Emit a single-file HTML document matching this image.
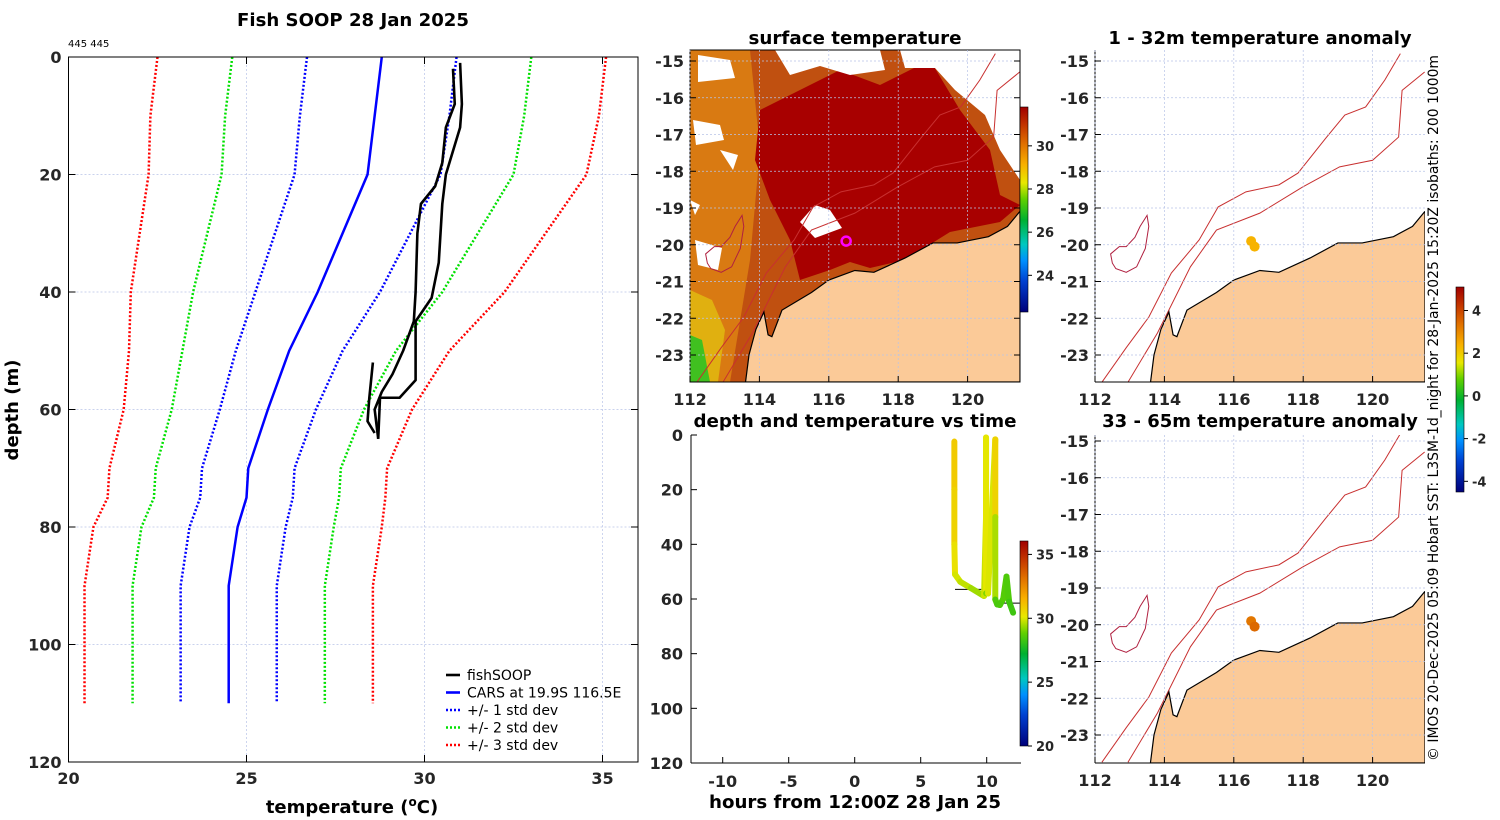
<!DOCTYPE html>
<html><head><meta charset="utf-8"><style>
html,body{margin:0;padding:0;background:#fff;}
svg{display:block;font-family:"DejaVu Sans","Liberation Sans",sans-serif;}
.tk{font-size:16px;font-weight:bold;fill:#262626;}
.ttl{font-size:18px;font-weight:bold;fill:#000;}
.cb{font-size:13px;font-weight:bold;fill:#262626;}
.lg{font-size:14px;fill:#000;}
</style></head><body>
<svg id="fig" width="1500" height="820" viewBox="0 0 1500 820" xmlns="http://www.w3.org/2000/svg">
<defs>
<linearGradient id="sstcb" x1="0" y1="1" x2="0" y2="0">
<stop offset="0" stop-color="#00007a"/><stop offset="0.15" stop-color="#0040d0"/><stop offset="0.25" stop-color="#0090ff"/><stop offset="0.33" stop-color="#00c8c0"/><stop offset="0.45" stop-color="#00b030"/><stop offset="0.55" stop-color="#60d000"/><stop offset="0.63" stop-color="#e8e800"/><stop offset="0.72" stop-color="#f8b000"/><stop offset="0.82" stop-color="#e07000"/><stop offset="0.92" stop-color="#c03000"/><stop offset="1" stop-color="#a00000"/></linearGradient>
<clipPath id="clipA"><rect x="690" y="50" width="330" height="332"/></clipPath>
<clipPath id="clipB"><rect x="1095" y="50" width="330" height="332"/></clipPath>
<clipPath id="clipC"><rect x="1095" y="435" width="330" height="328"/></clipPath>
</defs>
<g id="g-left"></g>
<g id="g-sst"></g>
<g id="g-time"></g>
<g id="g-anom1"></g>
<g id="g-anom2"></g>
<text x="1438" y="408" class="lg" font-size="13.5" text-anchor="middle" transform="rotate(-90 1438 408)" textLength="706" lengthAdjust="spacingAndGlyphs">© IMOS 20-Dec-2025 05:09 Hobart SST: L3SM-1d_night for 28-Jan-2025 15:20Z isobaths: 200  1000m</text>
</svg>
<script>
// ---------- profile data ----------
const carsDepth = [0, 10, 20, 30, 40, 50, 60, 70, 75, 80, 90, 110];
const carsTemp  = [28.8, 28.6, 28.4, 27.7, 27.0, 26.2, 25.6, 25.05, 25.0, 24.75, 24.5, 24.5];
const carsStd   = [2.1, 2.1, 2.05, 1.9, 1.75, 1.5, 1.35, 1.3, 1.3, 1.35, 1.35, 1.35];
const castA_T = [30.8, 30.85, 30.6, 30.5, 30.3, 29.9, 29.8, 29.75, 29.7, 29.4, 29.1, 28.8, 28.6, 28.7];
const castA_D = [2, 8, 12, 18, 22, 25, 30, 40, 45, 50, 54, 57, 60, 65];
const castB_T = [28.7, 28.75, 29.3, 29.6, 29.75, 29.75, 30.2, 30.4, 30.5, 30.6, 31.0, 31.05, 31.0];
const castB_D = [65, 58, 58, 56, 55, 45, 41, 35, 25, 20, 12, 8, 1];
const castC_T = [28.55, 28.45, 28.4, 28.6];
const castC_D = [52, 58, 62, 64];
const xTicks = [20, 25, 30, 35];
const yTicks = [0, 20, 40, 60, 80, 100, 120];
// ---------- depth-time data ----------
const tHours = [7.55, 7.55, 7.55, 7.6, 8.0, 8.8, 9.8, 9.95, 9.95, 9.95, 10.1, 10.65, 10.65, 10.65, 10.8, 11.0, 11.25, 11.5, 11.7, 12.0];
const tDepth = [2.4, 20, 40, 51, 53.7, 56, 58.9, 30, 0.9, 57.9, 58, 1.6, 30, 60.2, 62, 62.2, 60, 51.8, 61, 65];
const tTemp  = [30.9, 30.8, 30.5, 30.0, 29.8, 29.6, 29.2, 30.4, 30.9, 29.2, 29.0, 30.9, 30.4, 28.6, 28.4, 28.4, 28.5, 28.7, 28.3, 28.2];
const tTicksX = [-10, -5, 0, 5, 10];
const tTicksY = [0, 20, 40, 60, 80, 100, 120];
// ---------- map data ----------
const lonTicks = [112, 114, 116, 118, 120];
const latTicks = [-15, -16, -17, -18, -19, -20, -21, -22, -23];
const coastLon = [113.6, 113.7, 113.9, 114.13, 114.25, 114.36, 114.65, 115.5, 116.0, 116.75, 117.3, 118.2, 119.0, 119.7, 120.6, 121.15, 121.5];
const coastLat = [-23.74, -23.0, -22.3, -21.83, -22.45, -22.5, -21.78, -21.3, -20.96, -20.7, -20.75, -20.36, -19.95, -19.95, -19.78, -19.5, -19.1];
const iso1Lon = [112.2, 112.9, 113.55, 114.2, 115.0, 115.55, 116.35, 117.3, 117.85, 118.65, 119.2, 119.8, 120.35, 120.8];
const iso1Lat = [-23.74, -22.8, -21.97, -20.77, -19.87, -18.97, -18.56, -18.37, -18.05, -17.1, -16.47, -16.25, -15.52, -14.8];
const iso2Lon = [112.95, 113.8, 114.75, 115.5, 116.75, 117.98, 119.05, 120.0, 120.75, 120.85, 121.5];
const iso2Lat = [-23.74, -22.4, -20.6, -19.6, -19.14, -18.43, -17.88, -17.7, -17.07, -15.8, -15.3];
const islLon = [112.45, 112.7, 112.9, 113.15, 113.3, 113.5, 113.55, 113.45, 113.2, 112.9, 112.6, 112.5, 112.45];
const islLat = [-20.25, -20.05, -20.05, -19.8, -19.5, -19.2, -19.5, -20.1, -20.6, -20.75, -20.65, -20.5, -20.25];
const stationLon = [116.5, 116.6];
const stationLat = [-19.9, -20.05];
const anom1 = [2.3, 2.3];
const anom2 = [3.2, 3.4];
const sstTicks = [30, 28, 26, 24];
const timeCbTicks = [35, 30, 25, 20];
const anomTicks = [4, 2, 0, -2, -4];

const NS = 'http://www.w3.org/2000/svg';
function mk(parent, tag, attrs, text) {
  const e = document.createElementNS(NS, tag);
  for (const k in attrs) e.setAttribute(k, attrs[k]);
  if (text !== undefined) e.textContent = text;
  parent.appendChild(e);
  return e;
}
function jet(t, lo, hi) {
  const f = Math.max(0, Math.min(1, (t - lo) / (hi - lo)));
  const st = [[0,[0,0,122]],[0.15,[0,64,208]],[0.25,[0,144,255]],[0.33,[0,200,192]],[0.45,[0,176,48]],[0.55,[96,208,0]],[0.63,[232,232,0]],[0.72,[248,176,0]],[0.82,[224,112,0]],[0.92,[192,48,0]],[1,[160,0,0]]];
  for (let i = 1; i < st.length; i++) {
    if (f <= st[i][0]) {
      const a = st[i-1], b = st[i], u = (f - a[0]) / (b[0] - a[0]);
      const c = a[1].map((v, j) => Math.round(v + (b[1][j] - v) * u));
      return 'rgb(' + c.join(',') + ')';
    }
  }
  return 'rgb(160,0,0)';
}

// ================= LEFT PROFILE =================
(function () {
  const g = document.getElementById('g-left');
  const L = 68.5, R = 638, T = 57, B = 762;
  const X = v => L + (v - 20) * 35.6;
  const Y = d => T + d * (B - T) / 120;
  mk(g, 'rect', {x: L, y: T, width: R - L, height: B - T, fill: '#fff', stroke: 'none'});
  xTicks.forEach(v => {
    const ln = mk(g, 'line', {x1: X(v), x2: X(v), y1: T, y2: B, stroke: '#b8c4e8', 'stroke-width': 0.7, 'stroke-dasharray': '2 2'});
    
    
    mk(g, 'line', {x1: X(v), x2: X(v), y1: B, y2: B - 7, stroke: '#000'});
    mk(g, 'line', {x1: X(v), x2: X(v), y1: T, y2: T + 7, stroke: '#000'});
    const t = mk(g, 'text', {x: X(v), y: B + 22, class: 'tk', 'text-anchor': 'middle'}, v);
    
    
  });
  yTicks.forEach(d => {
    const ln = mk(g, 'line', {x1: L, x2: R, y1: Y(d), y2: Y(d), stroke: '#b8c4e8', 'stroke-width': 0.7, 'stroke-dasharray': '2 2'});
    
    
    mk(g, 'line', {x1: L, x2: L + 7, y1: Y(d), y2: Y(d), stroke: '#000'});
    mk(g, 'line', {x1: R, x2: R - 7, y1: Y(d), y2: Y(d), stroke: '#000'});
    const t = mk(g, 'text', {x: L - 7, y: Y(d) + 6, class: 'tk', 'text-anchor': 'end'}, d);
    
    
  });
  const colors = ['#0000ff', '#00e000', '#ff0000'];
  [3, 2, 1].forEach(k => {
    [-1, 1].forEach(s => {
      const pts = carsDepth.map((d, i) => X(carsTemp[i] + s * k * carsStd[i]) + ',' + Y(d)).join(' ');
      const p = mk(g, 'polyline', {points: pts, fill: 'none', stroke: colors[k - 1], 'stroke-width': 2.5, 'stroke-dasharray': '2 2'});
      
      
    });
  });
  const cp = mk(g, 'polyline', {points: carsDepth.map((d, i) => X(carsTemp[i]) + ',' + Y(d)).join(' '), fill: 'none', stroke: '#0000ff', 'stroke-width': 2.5});
  
  
  [[castA_T, castA_D], [castB_T, castB_D], [castC_T, castC_D]].forEach((c, j) => {
    const p = mk(g, 'polyline', {points: c[1].map((d, i) => X(c[0][i]) + ',' + Y(d)).join(' '), fill: 'none', stroke: '#000', 'stroke-width': 2.6, 'stroke-linejoin': 'round'});
    
    
  });
  mk(g, 'rect', {x: L, y: T, width: R - L, height: B - T, fill: 'none', stroke: '#000', 'stroke-width': 1});
  const tt = mk(g, 'text', {x: 353, y: 26, class: 'ttl', 'text-anchor': 'middle', textLength: 232, lengthAdjust: 'spacingAndGlyphs'}, 'Fish SOOP 28 Jan 2025');
  
  
  const sm = mk(g, 'text', {x: 68, y: 47, 'font-size': 10, fill: '#000'}, '445 445');
  
  
  const xl = mk(g, 'text', {x: 352, y: 813, class: 'ttl', 'text-anchor': 'middle', fill: '#262626'});
  
  
  xl.innerHTML = 'temperature (<tspan dy="-7" font-size="12">o</tspan><tspan dy="7">C)</tspan>';
  const yl = mk(g, 'text', {x: 18, y: 410, class: 'ttl', 'text-anchor': 'middle', transform: 'rotate(-90 18 410)'}, 'depth (m)');
  
  
  const lg = mk(g, 'g', {});
  
  
  const items = [['fishSOOP', '#000', ''], ['CARS at 19.9S 116.5E', '#0000ff', ''], ['+/- 1 std dev', '#0000ff', '2 2'], ['+/- 2 std dev', '#00e000', '2 2'], ['+/- 3 std dev', '#ff0000', '2 2']];
  items.forEach((it, i) => {
    const y = 675 + i * 17.5;
    const e = mk(lg, 'g', {});
    
    
    mk(e, 'line', {x1: 446, x2: 460, y1: y, y2: y, stroke: it[1], 'stroke-width': 2.6, 'stroke-dasharray': it[2]});
    mk(e, 'text', {x: 467, y: y + 5, class: 'lg'}, it[0]);
  });
})();

// ================= MAP HELPERS =================
function proj(x0, y0) {
  return [lon => x0 + (lon - 112) * 34.7, lat => y0 + (-15 - lat) * 36.75];
}
function polyPts(P, lons, lats) { return lons.map((v, i) => P[0](v) + ',' + P[1](lats[i])).join(' '); }
function mapAxes(g, P, box, withRightTicks) {
  lonTicks.forEach(v => {
    const ln = mk(g, 'line', {x1: P[0](v), x2: P[0](v), y1: box[1], y2: box[3], stroke: '#b8c4e8', 'stroke-width': 0.7, 'stroke-dasharray': '2 2'});
    
    
    mk(g, 'line', {x1: P[0](v), x2: P[0](v), y1: box[3], y2: box[3] - 6, stroke: '#000'});
    const t = mk(g, 'text', {x: P[0](v), y: box[3] + 23, class: 'tk', 'text-anchor': 'middle'}, v);
    
    
  });
  latTicks.forEach(v => {
    const ln = mk(g, 'line', {x1: box[0], x2: box[2], y1: P[1](v), y2: P[1](v), stroke: '#b8c4e8', 'stroke-width': 0.7, 'stroke-dasharray': '2 2'});
    
    
    mk(g, 'line', {x1: box[0], x2: box[0] + 6, y1: P[1](v), y2: P[1](v), stroke: '#000'});
    if (withRightTicks) mk(g, 'line', {x1: box[2], x2: box[2] - 6, y1: P[1](v), y2: P[1](v), stroke: '#000'});
    const t = mk(g, 'text', {x: box[0] - 6, y: P[1](v) + 6, class: 'tk', 'text-anchor': 'end'}, v);
    
    
  });
}
function land(g, P, box) {
  const pts = polyPts(P, coastLon, coastLat) + ' ' + box[2] + ',' + P[1](-19.1) + ' ' + box[2] + ',' + box[3] + ' ' + P[0](113.6) + ',' + box[3];
  const l = mk(g, 'polygon', {points: pts, fill: '#fbca98', stroke: '#000', 'stroke-width': 1.2});
  
  
}
function isobaths(g, P) {
  [[iso1Lon, iso1Lat], [iso2Lon, iso2Lat]].forEach((c, i) => {
    const p = mk(g, 'polyline', {points: polyPts(P, c[0], c[1]), fill: 'none', stroke: '#c83030', 'stroke-width': 1});
    
    
  });
  const isl = mk(g, 'polygon', {points: polyPts(P, islLon, islLat), fill: 'none', stroke: '#b02040', 'stroke-width': 1});
  
  
}
function colorbar(g, x, y0, y1, lo, hi, ticks, grad, name) {
  const r = mk(g, 'rect', {x: x, y: y0, width: 8, height: y1 - y0, fill: 'url(#' + grad + ')', stroke: '#000', 'stroke-width': 0.6});
  
  
  ticks.forEach(v => {
    const y = y1 - (v - lo) / (hi - lo) * (y1 - y0);
    mk(g, 'line', {x1: x + 8, x2: x + 12, y1: y, y2: y, stroke: '#000'});
    const t = mk(g, 'text', {x: x + 16, y: y + 5, class: 'cb'}, v);
    
    
  });
}

// ================= SST MAP =================
(function () {
  const g = document.getElementById('g-sst');
  const box = [690, 50, 1020, 382];
  const P = proj(690, 61);
  const c = mk(g, 'g', {'clip-path': 'url(#clipA)'});
  mk(c, 'rect', {x: 690, y: 50, width: 330, height: 332, fill: '#c05010'});
  mk(c, 'polygon', {points: '690,50 750,50 760,150 750,260 730,382 690,382', fill: '#d97a12'});
  mk(c, 'polygon', {points: '690,290 712,300 725,330 718,382 690,382', fill: '#e0b010'});
  mk(c, 'polygon', {points: '690,335 702,340 710,382 690,382', fill: '#40c020'});
  mk(c, 'polygon', {points: '760,110 800,90 840,70 880,85 930,60 960,110 990,150 1000,195 1020,205 1000,222 950,232 905,260 870,268 850,262 830,270 800,280 790,240 770,200 755,160', fill: '#a80000'});
  const clouds = ['775,50 880,50 885,70 850,75 820,66 790,75', '900,50 1020,50 1020,180 1000,150 985,115 955,90 935,68 905,68',
    '815,205 830,210 842,228 815,238 800,222', '698,55 730,60 735,78 698,82', '693,120 720,125 724,140 696,145',
    '695,240 722,248 718,270 698,265', '720,150 738,155 733,170', '690,200 700,205 695,215'];
  clouds.forEach(pt => mk(c, 'polygon', {points: pt, fill: '#fff'}));
  isobaths(c, P);
  land(c, P, box);
  mk(g, 'rect', {x: 690, y: 50, width: 330, height: 332, fill: 'none', stroke: '#000', 'stroke-width': 1});
  mapAxes(g, P, box, true);
  const m = mk(g, 'circle', {cx: P[0](stationLon[0]), cy: P[1](stationLat[0]), r: 4.5, fill: 'none', stroke: '#ff00ff', 'stroke-width': 2.5});
  
  
  colorbar(g, 1020, 107, 312, 22.3, 31.8, sstTicks, 'sstcb', 'sst-colorbar');
  const t = mk(g, 'text', {x: 855, y: 44, class: 'ttl', 'text-anchor': 'middle', textLength: 213, lengthAdjust: 'spacingAndGlyphs'}, 'surface temperature');
  
  
})();

// ================= DEPTH-TIME =================
(function () {
  const g = document.getElementById('g-time');
  const L = 691, R = 1021, T = 435, B = 763;
  const X = h => 854.7 + h * 13.2;
  const Y = d => T + d * (B - T) / 120;
  mk(g, 'line', {x1: L, x2: L, y1: T, y2: B, stroke: '#000'});
  mk(g, 'line', {x1: L, x2: R, y1: B, y2: B, stroke: '#000'});
  tTicksX.forEach(v => {
    mk(g, 'line', {x1: X(v), x2: X(v), y1: B, y2: B - 6, stroke: '#000'});
    const t = mk(g, 'text', {x: X(v), y: B + 24, class: 'tk', 'text-anchor': 'middle'}, v);
    
    
  });
  tTicksY.forEach(v => {
    mk(g, 'line', {x1: L, x2: L + 6, y1: Y(v), y2: Y(v), stroke: '#000'});
    const t = mk(g, 'text', {x: L - 8, y: Y(v) + 6, class: 'tk', 'text-anchor': 'end'}, v);
    
    
  });
  mk(g, 'line', {x1: X(7.6), x2: X(9.6), y1: Y(56.5), y2: Y(56.5), stroke: '#000', 'stroke-width': 1});
  mk(g, 'line', {x1: X(10.7), x2: X(12.5), y1: Y(61.5), y2: Y(61.5), stroke: '#000', 'stroke-width': 1});
  for (let i = 1; i < tHours.length; i++) {
    const s = mk(g, 'line', {x1: X(tHours[i - 1]), y1: Y(tDepth[i - 1]), x2: X(tHours[i]), y2: Y(tDepth[i]), stroke: jet((tTemp[i] + tTemp[i - 1]) / 2, 20, 36), 'stroke-width': 6, 'stroke-linecap': 'round'});
    
    
  }
  colorbar(g, 1020, 541, 746, 20, 36.05, timeCbTicks, 'sstcb', 'time-colorbar');
  const t = mk(g, 'text', {x: 855, y: 427, class: 'ttl', 'text-anchor': 'middle', textLength: 323, lengthAdjust: 'spacingAndGlyphs'}, 'depth and temperature vs time');
  
  
  const xl = mk(g, 'text', {x: 855, y: 808, class: 'ttl', 'text-anchor': 'middle', fill: '#262626', textLength: 292, lengthAdjust: 'spacingAndGlyphs'}, 'hours from 12:00Z 28 Jan 25');
  
  
})();

// ================= ANOMALY MAPS =================
function anomMap(id, y0, yTop, yBot, clip, vals, title, titleY) {
  const g = document.getElementById(id);
  const box = [1095, yTop, 1425, yBot];
  const P = proj(1095, y0);
  const c = mk(g, 'g', {'clip-path': 'url(#' + clip + ')'});
  isobaths(c, P);
  land(c, P, box);
  mk(g, 'line', {x1: 1095, x2: 1095, y1: yTop, y2: yBot, stroke: '#000'});
  mk(g, 'line', {x1: 1095, x2: 1425, y1: yBot, y2: yBot, stroke: '#000'});
  mapAxes(g, P, box, false);
  stationLon.forEach((lo, i) => {
    const d = mk(g, 'circle', {cx: P[0](lo), cy: P[1](stationLat[i]), r: 5, fill: jet(vals[i], -4.5, 5)});
    
    
  });
  const t = mk(g, 'text', {x: 1260, y: titleY, class: 'ttl', 'text-anchor': 'middle'}, title);
  
  
}
anomMap('g-anom1', 61, 50, 382, 'clipB', anom1, '1 - 32m temperature anomaly', 44);
anomMap('g-anom2', 441, 435, 763, 'clipC', anom2, '33 - 65m temperature anomaly', 427);
colorbar(document.getElementById('g-anom1'), 1456, 287, 492, -4.5, 5.1, anomTicks, 'sstcb', 'anomaly-colorbar');
</script>
</body></html>
